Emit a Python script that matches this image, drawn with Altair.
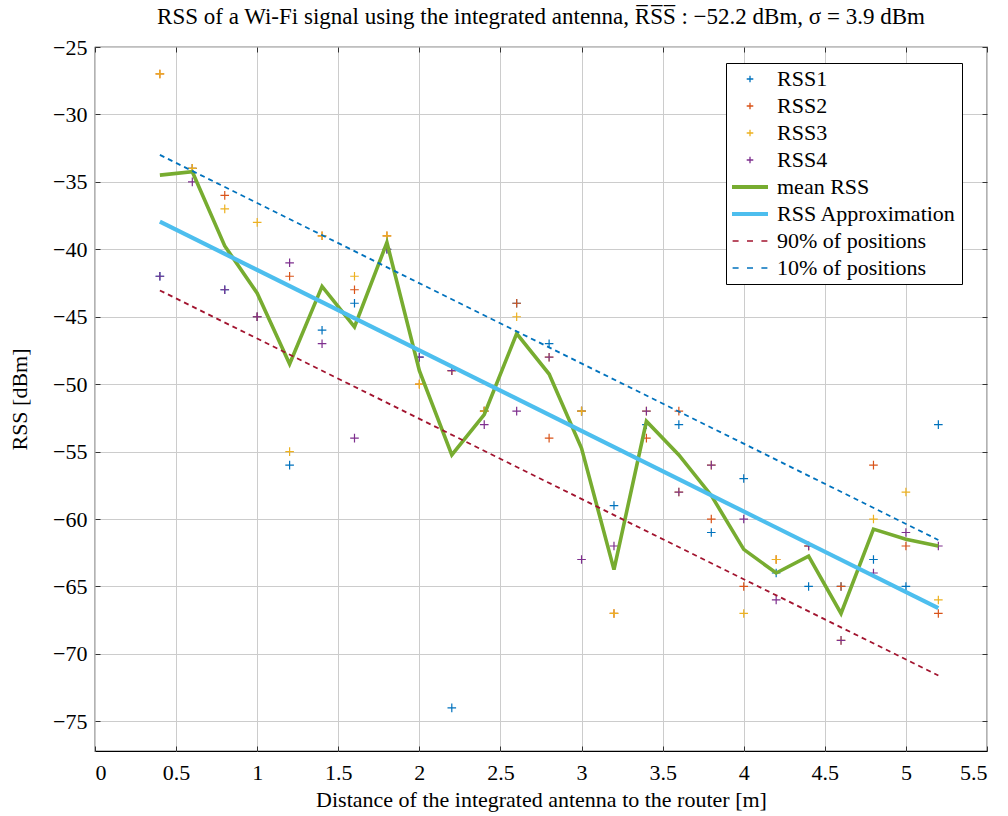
import altair as alt
import pandas as pd

# ---------------- data ----------------
distance = [0.4, 0.6, 0.8, 1.0, 1.2, 1.4, 1.6, 1.8, 2.0, 2.2, 2.4, 2.6, 2.8,
            3.0, 3.2, 3.4, 3.6, 3.8, 4.0, 4.2, 4.4, 4.6, 4.8, 5.0, 5.2]
rss1 = [-42, -34, -43, -45, -56, -46, -44, -40, -48, -74, -52, -44, -47,
        -52, -59, -53, -53, -61, -57, -64, -65, -65, -63, -65, -53]
rss2 = [-27, -34, -36, -45, -42, -39, -43, -39, -50, -49, -52, -44, -54,
        -52, -67, -54, -52, -60, -65, -63, -62, -65, -56, -62, -67]
rss3 = [-27, -34, -37, -38, -55, -39, -42, -39, -50, -49, -52, -45, -48,
        -52, -67, -52, -58, -56, -67, -63, -62, -69, -60, -58, -66]
rss4 = [-42, -35, -43, -45, -41, -47, -54, -40, -48, -49, -53, -52, -48,
        -63, -62, -52, -58, -56, -60, -66, -62, -69, -64, -61, -62]
mean_rss = [-34.5, -34.25, -39.75, -43.25, -48.5, -42.75, -45.75, -39.5, -49.0,
            -55.25, -52.25, -46.25, -49.25, -54.75, -63.75, -52.75, -55.25,
            -58.25, -62.25, -64.0, -62.75, -67.0, -60.75, -61.5, -62.0]

fit_distance = [0.4, 5.2]
approx_rss = [-37.95, -66.6]
p90_rss = [-43.05, -71.6]
p10_rss = [-33.0, -61.55]

series_names = ["RSS1", "RSS2", "RSS3", "RSS4", "mean RSS", "RSS Approximation",
                "90% of positions", "10% of positions"]
series_colors = ["#0072BD", "#D95319", "#EDB120", "#7E2F8E", "#77AC30", "#4DBEEE",
                 "#A2142F", "#0072BD"]

x_ticks = [0, 0.5, 1, 1.5, 2, 2.5, 3, 3.5, 4, 4.5, 5, 5.5]
y_ticks = [-75, -70, -65, -60, -55, -50, -45, -40, -35, -30, -25]

# ---------------- styles ----------------
FONT = "Liberation Serif"
FS = 22
PLUS = "M-0.55,0H0.55M0,-0.55V0.55"
THICK = "M-3,-0.22H3M-3,-0.11H3M-3,0H3M-3,0.11H3M-3,0.22H3"
DASHED = "M-2.9,0H-1.9M-0.5,0H0.5M1.9,0H2.9"
series_shapes = [PLUS, PLUS, PLUS, PLUS, THICK, THICK, DASHED, DASHED]

pts = pd.concat(
    [pd.DataFrame({"distance": distance, "rss": vals, "series": name})
     for name, vals in zip(series_names[:4], [rss1, rss2, rss3, rss4])],
    ignore_index=True,
)
mean_df = pd.DataFrame({"distance": distance, "rss": mean_rss})
approx_df = pd.DataFrame({"distance": fit_distance, "rss": approx_rss})
p90_df = pd.DataFrame({"distance": fit_distance, "rss": p90_rss})
p10_df = pd.DataFrame({"distance": fit_distance, "rss": p10_rss})

xs = alt.Scale(domain=[0, 5.5], nice=False, zero=False)
ys = alt.Scale(domain=[-77.2, -25], nice=False, zero=False)

TICK_LEN = 5
x_axis = alt.Axis(
    orient="bottom", values=x_ticks, format="~g", grid=True, gridColor="#cccccc",
    gridWidth=1, domain=False, ticks=True, tickSize=TICK_LEN, offset=-TICK_LEN,
    tickColor="#333333", tickWidth=1, labelPadding=11, labelFont=FONT,
    labelFontSize=FS, labelColor="black",
    title="Distance of the integrated antenna to the router [m]", titleFont=FONT,
    titleFontSize=FS, titleFontWeight="normal", titleColor="black", titlePadding=6,
)
y_axis = alt.Axis(
    orient="left", values=y_ticks, format="d", grid=True, gridColor="#cccccc",
    gridWidth=1, domain=False, ticks=True, tickSize=TICK_LEN, offset=-TICK_LEN,
    tickColor="#333333", tickWidth=1, labelPadding=8, labelFont=FONT,
    labelFontSize=FS, labelColor="black", title="RSS [dBm]", titleFont=FONT,
    titleFontSize=FS, titleFontWeight="normal", titleColor="black", titlePadding=21,
)
x_axis_top = alt.Axis(
    orient="top", values=x_ticks, grid=False, domain=False, labels=False,
    ticks=True, tickSize=TICK_LEN, offset=-TICK_LEN, tickColor="#333333", title=None,
)
y_axis_right = alt.Axis(
    orient="right", values=y_ticks, grid=False, domain=False, labels=False,
    ticks=True, tickSize=TICK_LEN, offset=-TICK_LEN, tickColor="#333333", title=None,
)

legend = alt.Legend(
    title=None, orient="none", legendX=631, legendY=16, fillColor="white",
    strokeColor="black", padding=5, labelFont=FONT, labelFontSize=FS,
    labelColor="black", symbolSize=144, symbolStrokeWidth=1.3, symbolOffset=8,
    labelOffset=16, rowPadding=5, labelLimit=400, cornerRadius=0,
)

points = alt.Chart(pts).mark_point(
    filled=False, size=245, strokeWidth=1.2, opacity=1
).encode(
    x=alt.X("distance:Q", scale=xs, axis=x_axis),
    y=alt.Y("rss:Q", scale=ys, axis=y_axis),
    color=alt.Color("series:N", scale=alt.Scale(domain=series_names, range=series_colors),
                    legend=legend),
    shape=alt.Shape("series:N", scale=alt.Scale(domain=series_names, range=series_shapes),
                    legend=legend),
)

def line_layer(df, color, width, dash=None, axes=False):
    kw = dict(color=color, strokeWidth=width)
    if dash:
        kw["strokeDash"] = dash
    xa = x_axis_top if axes else None
    ya = y_axis_right if axes else None
    return alt.Chart(df).mark_line(**kw).encode(
        x=alt.X("distance:Q", scale=xs, axis=xa),
        y=alt.Y("rss:Q", scale=ys, axis=ya),
    )

mean_line = line_layer(mean_df, "#77AC30", 3.6)
approx_line = line_layer(approx_df, "#4DBEEE", 4.2)
p90_line = line_layer(p90_df, "#A2142F", 1.8, [5, 4])
p10_line = line_layer(p10_df, "#0072BD", 1.8, [5, 4], axes=True)

chart = alt.layer(points, mean_line, approx_line, p90_line, p10_line).resolve_axis(
    x="independent", y="independent"
).properties(
    width=892, height=704,
    title=alt.TitleParams(
        text="RSS of a Wi-Fi signal using the integrated antenna, R\u0305S\u0305S\u0305 : \u221252.2 dBm, \u03c3 = 3.9 dBm",
        font=FONT, fontSize=23, fontWeight="normal", color="black", anchor="middle",
        offset=7,
    ),
    padding={"left": 8, "top": 6, "right": 15, "bottom": 5},
).configure_view(stroke="black", strokeWidth=1.2).configure_axis(
    labelFont=FONT, titleFont=FONT
)

chart.save("out.html", embed_options={"renderer": "svg", "actions": False})
